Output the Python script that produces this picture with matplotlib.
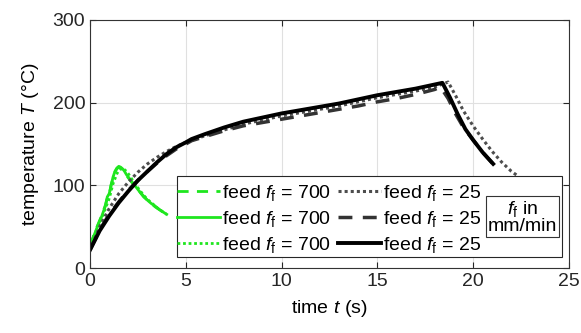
import matplotlib
matplotlib.use("Agg")
import matplotlib.pyplot as plt
from matplotlib.patches import Rectangle

plt.rcParams['font.family'] = ['Liberation Sans', 'DejaVu Sans']
plt.rcParams['mathtext.fontset'] = 'custom'
plt.rcParams['mathtext.rm'] = 'Liberation Sans'
plt.rcParams['mathtext.it'] = 'Liberation Sans:italic'
plt.rcParams['font.size'] = 14

# feed 700 mm/min (green)
t_g1 = [0, 0.2, 0.4, 0.6, 0.8, 0.9, 1.0, 1.1, 1.2, 1.3, 1.4, 1.5, 1.6, 1.7, 1.8, 1.9, 2.0, 2.2, 2.4, 2.6, 2.8, 3.0, 3.2, 3.4, 3.6, 3.8, 4.0, 4.1]
T_g1 = [27, 40, 52, 63, 76, 85, 88, 101, 108, 116, 120, 122, 121, 119, 116, 112, 109, 103, 97, 92, 86, 82, 78, 74, 71, 68, 66, 64]
t_g2 = [0, 0.2, 0.4, 0.6, 0.8, 0.9, 1.0, 1.1, 1.2, 1.3, 1.4, 1.5, 1.6, 1.7, 1.8, 1.9, 2.0, 2.2, 2.4, 2.6, 2.8, 3.0, 3.2, 3.4, 3.6, 3.8, 4.0]
T_g2 = [26, 39, 51, 62, 75, 86, 90, 100, 110, 117, 121, 123, 122, 120, 117, 113, 110, 104, 98, 92, 87, 82, 78, 75, 71, 68, 65]
t_g3 = [0, 0.2, 0.4, 0.6, 0.8, 1.0, 1.2, 1.4, 1.5, 1.6, 1.7, 1.8, 1.9, 2.0, 2.2, 2.4, 2.6, 2.8, 3.0, 3.2, 3.4, 3.6, 3.8, 4.0]
T_g3 = [25, 38, 50, 60, 72, 84, 102, 114, 118, 120, 121, 119, 117, 114, 107, 100, 94, 88, 83, 79, 75, 71, 68, 65]

# feed 25 mm/min (black)
t_k1 = [0, 0.5, 1, 1.5, 2, 2.5, 3, 3.5, 4, 4.5, 5, 5.5, 6, 7, 8, 9, 10, 11, 12, 13, 14, 15, 16, 17, 18, 18.7, 19.1, 19.5, 20, 20.5, 21, 21.5, 22, 22.3]
T_k1 = [22, 50, 72, 90, 104, 116, 126, 134, 141, 147, 152, 156, 160, 167, 174, 179, 184, 188, 192, 196, 201, 206, 210, 214, 219, 225, 208, 190, 172, 156, 141, 128, 117, 112]
t_k2 = [0, 0.5, 1, 1.5, 2, 2.5, 3, 3.5, 4, 4.5, 5, 5.3, 6, 7, 8, 9, 10, 11, 12, 13, 14, 15, 16, 17, 18, 18.3, 18.7, 19.1, 19.5, 20, 20.5, 21]
T_k2 = [22, 46, 65, 80, 94, 106, 117, 127, 136, 144, 150, 154, 159, 166, 172, 176, 180, 184, 188, 192, 196, 201, 205, 210, 216, 219, 205, 186, 170, 155, 140, 127]
t_k3 = [0, 0.5, 1, 1.5, 2, 2.5, 3, 3.5, 4, 4.5, 5, 5.3, 6, 7, 8, 9, 10, 11, 12, 13, 14, 15, 16, 17, 18, 18.4, 18.8, 19.2, 19.6, 20, 20.5, 21.05]
T_k3 = [22, 45, 63, 79, 93, 106, 117, 128, 138, 146, 152, 156, 162, 170, 177, 182, 187, 191, 195, 199, 204, 209, 213, 217, 222, 224, 206, 186, 168, 155, 140, 126]

green = '#1ee61e'
fig = plt.figure(figsize=(5.81, 3.33), dpi=100)
ax = fig.add_axes([0.155, 0.195, 0.824, 0.745])

lab700 = r'feed $f_\mathrm{f}$ = 700'
lab25 = r'feed $f_\mathrm{f}$ = 25'
ax.plot(t_g1, T_g1, color=green, lw=2, ls=(0, (4, 3)), label=lab700)
ax.plot(t_g2, T_g2, color=green, lw=2, ls='-', label=lab700)
ax.plot(t_g3, T_g3, color=green, lw=2, ls=(0, (1, 1)), label=lab700)
ax.plot(t_k1, T_k1, color='0.3', lw=2.2, ls=(0, (1, 1)), label=lab25)
ax.plot(t_k2, T_k2, color='0.2', lw=2.5, ls=(0, (4, 3)), label=lab25)
ax.plot(t_k3, T_k3, color='k', lw=2.8, ls='-', label=lab25)

ax.set_xlim(0, 25)
ax.set_ylim(0, 300)
ax.set_xticks([0, 5, 10, 15, 20, 25])
ax.set_yticks([0, 100, 200, 300])
ax.grid(True, color='0.88', lw=0.8)
ax.set_axisbelow(True)
ax.tick_params(direction='in', top=True, right=True, length=4, labelsize=14, colors='0.15')
for s in ax.spines.values():
    s.set_color('0.2')
ax.set_xlabel(r'time $t$ (s)', fontsize=14, labelpad=6)
ax.set_ylabel(r'temperature $T$ (°C)', fontsize=14, labelpad=8)

ax.add_patch(Rectangle((0.182, 0.044), 0.803, 0.327, transform=ax.transAxes,
                       facecolor='white', edgecolor='0.15', lw=0.8, zorder=4))
ax.legend(loc='upper left', bbox_to_anchor=(0.178, 0.35), ncol=2, frameon=False,
          fontsize=14, handlelength=2.2, handletextpad=0.1, columnspacing=0.35,
          labelspacing=0.3, borderpad=0.1, borderaxespad=0)
ax.text(0.903, 0.207, "$f_\\mathrm{f}$ in\nmm/min", transform=ax.transAxes,
        ha='center', va='center', fontsize=14, linespacing=0.95, zorder=6,
        bbox=dict(boxstyle='square,pad=0.1', facecolor='white', edgecolor='0.2', lw=0.8))

fig.savefig('out.png', dpi=100)
